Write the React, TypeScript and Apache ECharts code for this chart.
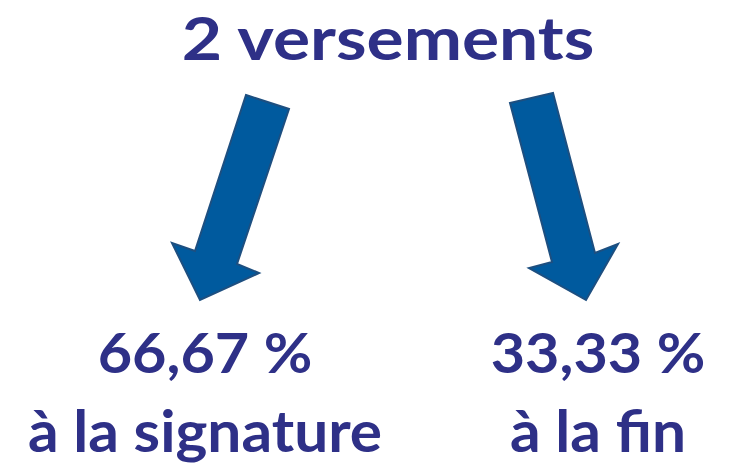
import React, { useEffect, useRef } from "react";
import * as echarts from "echarts";

const title = "2 versements";
const shares = [66.67, 33.33];
const captions = ["à la signature", "à la fin"];

const fmt = (v: number) => v.toFixed(2).replace(".", ",") + " %";

const TEXT_COLOR = "#2E3087";
const FONT = "Lato, 'Open Sans', sans-serif";

export default function App() {
  const ref = useRef<HTMLDivElement>(null);
  useEffect(() => {
    if (!ref.current) return;
    const chart = echarts.init(ref.current, null, { renderer: "svg" });
    const arrowLeft = [
      [246, 95], [289, 109], [237, 264], [259, 273], [200, 300], [172, 243], [195, 251],
    ];
    const arrowRight = [
      [510, 103], [553, 93], [595, 253], [618, 244], [586, 300], [529, 268], [552, 262],
    ];
    const arrowStyle = { fill: "#005A9E", stroke: "#1D4F80", lineWidth: 2, lineJoin: "miter" };
    const centers = [205, 598];
    chart.setOption({
      animation: false,
      backgroundColor: "#ffffff",
      graphic: [
        {
          type: "text",
          x: 388,
          y: 37,
          scaleX: 1.16,
          style: {
            text: title,
            fill: TEXT_COLOR,
            font: `bold 60px ${FONT}`,
            textAlign: "center",
            textVerticalAlign: "middle",
          },
        },
        { type: "polygon", shape: { points: arrowLeft }, style: arrowStyle },
        { type: "polygon", shape: { points: arrowRight }, style: arrowStyle },
        ...shares.map((v, i) => ({
          type: "text",
          x: centers[i],
          y: 351,
          scaleX: 1.06,
          style: {
            text: fmt(v),
            fill: TEXT_COLOR,
            font: `bold 56px ${FONT}`,
            textAlign: "center",
            textVerticalAlign: "middle",
          },
        })),
        ...captions.map((c, i) => ({
          type: "text",
          x: centers[i],
          y: 430,
          scaleX: 1.06,
          style: {
            text: c,
            fill: TEXT_COLOR,
            font: `bold 57px ${FONT}`,
            textAlign: "center",
            textVerticalAlign: "middle",
          },
        })),
      ],
    });
    return () => chart.dispose();
  }, []);
  return (
    <div
      ref={ref}
      style={{ width: 733, height: 463, position: "absolute", left: 0, top: 0 }}
    />
  );
}
